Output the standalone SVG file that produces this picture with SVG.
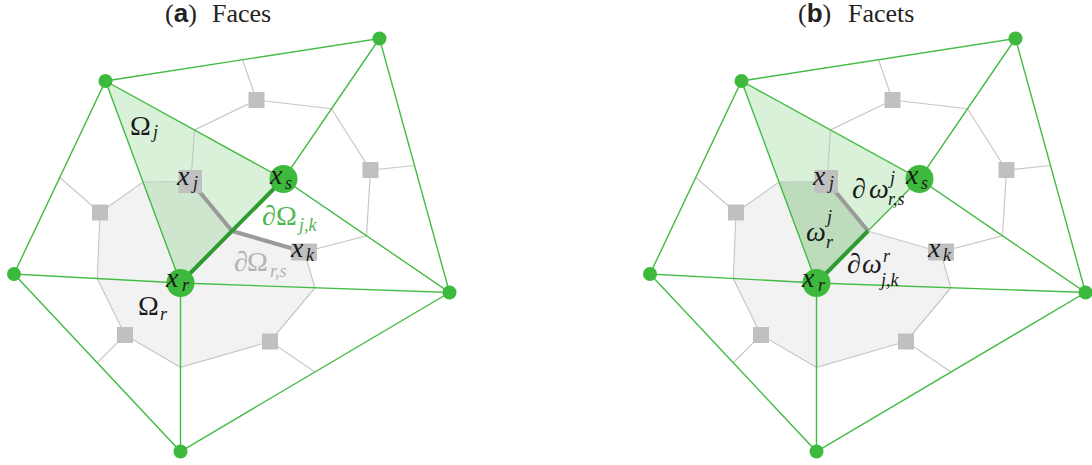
<svg xmlns="http://www.w3.org/2000/svg" width="1092" height="465" viewBox="0 0 1092 465">
<style>
.title{font-family:"Liberation Serif",serif;font-size:26px;fill:#222}
.m{font-family:"Liberation Serif",serif;font-size:28px;fill:#1a1a1a}
.it{font-style:italic}
.s{font-size:18px;font-style:italic}
.cell{fill:#f2f2f2;stroke:none}
.tri{fill:#3cb93c;fill-opacity:0.2;stroke:none}
.dark{fill:#bcdcbc;stroke:none}
.gl{stroke:#c8c8c8;stroke-width:1.2;fill:none}
.el{stroke:#44bb44;stroke-width:1.4;fill:none}
.thg{stroke:#2f9a2f;stroke-width:4;stroke-linecap:round}
.thk{stroke:#9a9a9a;stroke-width:4;fill:none;stroke-linejoin:round}
.sq{fill:#c0c0c0}
.v{fill:#3dba3d}
</style>
<rect width="1092" height="465" fill="#fff"/>

<!-- Panel (a) -->
<g id="panel-a">
  <g id="title-a"><text class="title" x="165" y="22">(<tspan font-weight="bold" font-family="Liberation Sans,sans-serif">a</tspan>)<tspan x="212">Faces</tspan></text></g>
  <g id="cell-r-a"><polygon class="cell" points="143,182 191,181.5 232,231 304.5,252 315,287.75 270,341.5 180.5,367.25 125,335 97.25,278.5 100,212.5"/></g>
  <g id="face-j-a"><polygon class="tri" points="105.5,81 283.5,179 180.5,283"/></g>
  <g id="connectors-a">
    <g id="dual-a">
      <polyline class="gl" points="242.5,59.75 256.5,100 331.5,108.75 370.5,170 414.5,165.5"/>
      <polyline class="gl" points="370.5,170 366.5,235.75 304.5,252 315,287.75 270,341.5 315,372"/>
      <polyline class="gl" points="270,341.5 180.5,367.25 125,335 97.25,362.75"/>
      <polyline class="gl" points="125,335 97.25,278.5 100,212.5 59.75,177.5"/>
      <polyline class="gl" points="100,212.5 143,182 191,181.5 194.5,130 256.5,100"/>
    </g>
    <g id="primal-a">
      <polyline class="el" points="14,274 105.5,81 379.5,38.5 449.5,292.5 180.5,451.5 14,274 180.5,283 449.5,292.5 283.5,179 379.5,38.5"/>
      <polyline class="el" points="105.5,81 283.5,179 180.5,283 105.5,81"/>
      <line class="el" x1="180.5" y1="283" x2="180.5" y2="451.5"/>
    </g>
    <polyline class="thk" points="191,181.5 232,231 304.5,252"/>
    <line class="thg" x1="180.5" y1="283" x2="283.5" y2="179"/>
  </g>
  <g id="squares-a">
    <rect class="sq" x="248.5" y="92" width="16" height="16"/>
    <rect class="sq" x="362.5" y="162" width="16" height="16"/>
    <rect class="sq" x="92" y="204.5" width="16" height="16"/>
    <rect class="sq" x="117" y="327" width="16" height="16"/>
    <rect class="sq" x="262" y="333.5" width="16" height="16"/>
  </g>
  <g id="xj-a"><rect class="sq" x="178.5" y="170" width="23.5" height="23"/><text class="m it" x="177" y="185">x<tspan class="s" x="193" y="189">j</tspan></text></g>
  <g id="xk-a"><rect class="sq" x="291" y="243.5" width="26" height="17"/><text class="m it" x="291" y="257">x<tspan class="s" x="306" y="261">k</tspan></text></g>
  <g id="vertices-a">
    <circle class="v" cx="105.5" cy="81" r="7"/>
    <circle class="v" cx="379.5" cy="38.5" r="7"/>
    <circle class="v" cx="14" cy="274" r="7"/>
    <circle class="v" cx="449.5" cy="292.5" r="7"/>
    <circle class="v" cx="180.5" cy="451.5" r="7"/>
  </g>
  <g id="xs-a"><circle class="v" cx="283.5" cy="179" r="14"/><text class="m it" x="270" y="184">x<tspan class="s" x="285" y="189">s</tspan></text></g>
  <g id="xr-a"><circle class="v" cx="180.5" cy="283" r="14"/><text class="m it" x="166" y="287">x<tspan class="s" x="182" y="291">r</tspan></text></g>
  <g id="labels-a">
    <text class="m" x="130" y="135">Ω<tspan class="s" x="153" y="138">j</tspan></text>
    <text class="m" x="138" y="315">Ω<tspan class="s" x="160" y="320">r</tspan></text>
    <text class="m" y="225" style="fill:#4db84d"><tspan class="it" x="262">∂</tspan><tspan x="276">Ω</tspan><tspan class="s" x="299" y="231">j,k</tspan></text>
    <text class="m" y="271" style="fill:#b3b3b3"><tspan class="it" x="234">∂</tspan><tspan x="247">Ω</tspan><tspan class="s" x="270" y="277">r,s</tspan></text>
  </g>
</g>

<!-- Panel (b) -->
<g id="panel-b">
  <g id="title-b"><text class="title" x="798" y="22">(<tspan font-weight="bold" font-family="Liberation Sans,sans-serif">b</tspan>)<tspan x="848">Facets</tspan></text></g>
  <g transform="translate(636,0)">
    <g id="cell-r-b"><polygon class="cell" points="143,182 191,181.5 232,231 304.5,252 315,287.75 270,341.5 180.5,367.25 125,335 97.25,278.5 100,212.5"/></g>
    <g id="face-j-b"><polygon class="tri" points="105.5,81 283.5,179 180.5,283"/></g>
    <g id="facet-rj-b"><polygon class="dark" points="143,182 191,181.5 232,231 180.5,283"/></g>
    <g id="connectors-b">
      <g id="dual-b">
        <polyline class="gl" points="242.5,59.75 256.5,100 331.5,108.75 370.5,170 414.5,165.5"/>
        <polyline class="gl" points="370.5,170 366.5,235.75 304.5,252 315,287.75 270,341.5 315,372"/>
        <polyline class="gl" points="270,341.5 180.5,367.25 125,335 97.25,362.75"/>
        <polyline class="gl" points="125,335 97.25,278.5 100,212.5 59.75,177.5"/>
        <polyline class="gl" points="100,212.5 143,182 191,181.5 194.5,130 256.5,100"/>
        <line class="gl" x1="232" y1="231" x2="304.5" y2="252"/>
      </g>
      <g id="primal-b">
        <polyline class="el" points="14,274 105.5,81 379.5,38.5 449.5,292.5 180.5,451.5 14,274 180.5,283 449.5,292.5 283.5,179 379.5,38.5"/>
        <polyline class="el" points="105.5,81 283.5,179 180.5,283 105.5,81"/>
        <line class="el" x1="180.5" y1="283" x2="180.5" y2="451.5"/>
      </g>
      <line class="thk" x1="191" y1="181.5" x2="232" y2="231"/>
      <line class="thg" x1="180.5" y1="283" x2="232" y2="231" style="stroke-linecap:butt"/>
    </g>
    <g id="squares-b">
      <rect class="sq" x="248.5" y="92" width="16" height="16"/>
      <rect class="sq" x="362.5" y="162" width="16" height="16"/>
      <rect class="sq" x="92" y="204.5" width="16" height="16"/>
      <rect class="sq" x="117" y="327" width="16" height="16"/>
      <rect class="sq" x="262" y="333.5" width="16" height="16"/>
    </g>
    <g id="xj-b"><rect class="sq" x="178.5" y="170" width="23.5" height="23"/><text class="m it" x="177" y="185">x<tspan class="s" x="193" y="189">j</tspan></text></g>
    <g id="xk-b"><rect class="sq" x="292" y="243.5" width="26" height="17"/><text class="m it" x="292" y="257">x<tspan class="s" x="307" y="261">k</tspan></text></g>
    <g id="vertices-b">
      <circle class="v" cx="105.5" cy="81" r="7"/>
      <circle class="v" cx="379.5" cy="38.5" r="7"/>
      <circle class="v" cx="14" cy="274" r="7"/>
      <circle class="v" cx="449.5" cy="292.5" r="7"/>
      <circle class="v" cx="180.5" cy="451.5" r="7"/>
    </g>
    <g id="xs-b"><circle class="v" cx="283.5" cy="179" r="14"/><text class="m it" x="270" y="184">x<tspan class="s" x="285" y="189">s</tspan></text></g>
    <g id="xr-b"><circle class="v" cx="180.5" cy="283" r="14"/><text class="m it" x="166" y="287">x<tspan class="s" x="182" y="291">r</tspan></text></g>
    <g id="labels-b">
      <text class="m it" y="198"><tspan x="216">∂</tspan><tspan x="233">ω</tspan><tspan class="s" x="254" y="184">j</tspan><tspan class="s" x="252" y="205">r,s</tspan></text>
      <text class="m it" y="241"><tspan x="170">ω</tspan><tspan class="s" x="191" y="223">j</tspan><tspan class="s" x="190" y="248">r</tspan></text>
      <text class="m it" y="273"><tspan x="211">∂</tspan><tspan x="226">ω</tspan><tspan class="s" x="247" y="262">r</tspan><tspan class="s" x="245" y="286">j,k</tspan></text>
    </g>
  </g>
</g>
</svg>
